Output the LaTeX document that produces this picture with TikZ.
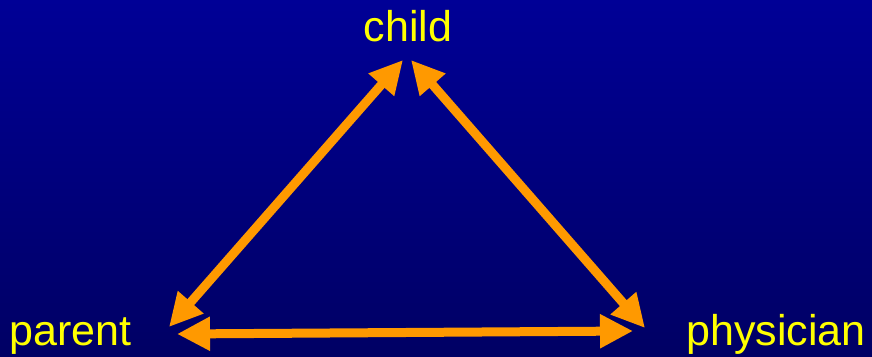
\documentclass[tikz,border=0pt]{standalone}
\usepackage{fontspec}
\setmainfont{Liberation Sans}
\usetikzlibrary{arrows.meta}
\definecolor{bgtop}{RGB}{0,0,150}
\definecolor{bgbot}{RGB}{0,0,100}
\definecolor{arr}{RGB}{255,153,0}
\definecolor{lab}{RGB}{255,255,0}
\begin{document}
\begin{tikzpicture}[x=1pt,y=-1pt,
  lbl/.style={text=lab,font=\fontsize{43}{43}\selectfont,inner sep=0pt},
  link/.style={draw=arr,line width=9pt,{Triangle[length=33pt,width=32pt]}-{Triangle[length=33pt,width=32pt]},shorten <=0pt,shorten >=0pt}]
\useasboundingbox (0,0) rectangle (872,356);
\shade[top color=bgtop,bottom color=bgbot] (0,0) rectangle (872,356);
\node[lbl,anchor=base] (child) at (408,41) {child};
\node[lbl,anchor=base west] (parent) at (9,345) {parent};
\node[lbl,anchor=base east] (physician) at (866,345) {physician};
\coordinate (cL) at (403,60);
\coordinate (cR) at (411,60);
\coordinate (pD) at (169,327);
\coordinate (pB) at (177,334);
\coordinate (hD) at (645,328);
\coordinate (hB) at (633,331);
\draw[link] (cL) -- (pD);
\draw[link] (cR) -- (hD);
\draw[link] (pB) -- (hB);
\end{tikzpicture}
\end{document}
